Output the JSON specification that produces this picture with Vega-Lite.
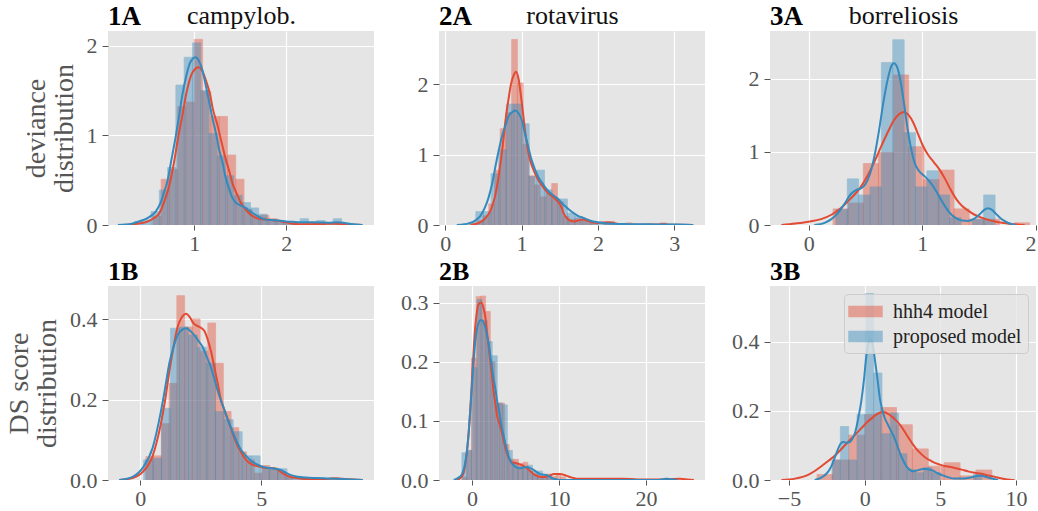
{
"$schema": "https://vega.github.io/schema/vega-lite/v6.json",
"padding": {"left": 5, "top": 2, "right": 0, "bottom": 0},
"background": "white",
"datasets": {
"b1A": [
{"s":"H","a":0.55,"b":0.64,"h":0.10},{"s":"H","a":0.64,"b":0.73,"h":0.51},{"s":"H","a":0.73,"b":0.82,"h":0.62},{"s":"H","a":0.82,"b":0.91,"h":1.32},{"s":"H","a":0.91,"b":1.00,"h":1.37},{"s":"H","a":1.00,"b":1.09,"h":2.07},{"s":"H","a":1.09,"b":1.18,"h":1.49},{"s":"H","a":1.18,"b":1.27,"h":1.21},{"s":"H","a":1.27,"b":1.36,"h":1.21},{"s":"H","a":1.36,"b":1.45,"h":0.78},{"s":"H","a":1.45,"b":1.54,"h":0.51},{"s":"H","a":1.54,"b":1.63,"h":0.17},{"s":"H","a":1.63,"b":1.72,"h":0.10},{"s":"H","a":1.72,"b":1.81,"h":0.11},{"s":"H","a":1.81,"b":1.90,"h":0.07},{"s":"H","a":1.90,"b":1.99,"h":0.03},{"s":"H","a":1.99,"b":2.08,"h":0.02},{"s":"H","a":2.08,"b":2.17,"h":0.01},{"s":"H","a":2.17,"b":2.26,"h":0.02},{"s":"H","a":2.26,"b":2.35,"h":0.01},{"s":"H","a":2.53,"b":2.62,"h":0.02},
{"s":"P","a":0.35,"b":0.44,"h":0.04},{"s":"P","a":0.44,"b":0.53,"h":0.06},{"s":"P","a":0.53,"b":0.62,"h":0.15},{"s":"P","a":0.62,"b":0.71,"h":0.39},{"s":"P","a":0.71,"b":0.80,"h":0.64},{"s":"P","a":0.80,"b":0.89,"h":1.56},{"s":"P","a":0.89,"b":0.98,"h":1.87},{"s":"P","a":0.98,"b":1.07,"h":2.03},{"s":"P","a":1.07,"b":1.16,"h":1.50},{"s":"P","a":1.16,"b":1.25,"h":1.02},{"s":"P","a":1.25,"b":1.34,"h":0.77},{"s":"P","a":1.34,"b":1.43,"h":0.55},{"s":"P","a":1.43,"b":1.52,"h":0.33},{"s":"P","a":1.52,"b":1.61,"h":0.25},{"s":"P","a":1.61,"b":1.70,"h":0.19},{"s":"P","a":1.70,"b":1.79,"h":0.12},{"s":"P","a":1.79,"b":1.88,"h":0.06},{"s":"P","a":1.88,"b":1.97,"h":0.05},{"s":"P","a":1.97,"b":2.06,"h":0.03},{"s":"P","a":2.06,"b":2.15,"h":0.03},{"s":"P","a":2.15,"b":2.24,"h":0.07},{"s":"P","a":2.24,"b":2.33,"h":0.03},{"s":"P","a":2.33,"b":2.42,"h":0.05},{"s":"P","a":2.42,"b":2.51,"h":0.02},{"s":"P","a":2.51,"b":2.60,"h":0.07},{"s":"P","a":2.60,"b":2.69,"h":0.02}
],
"k1A": [
{"s":"H","x":0.26,"y":0},{"s":"H","x":0.35,"y":0.01},{"s":"H","x":0.47,"y":0.03},{"s":"H","x":0.55,"y":0.07},{"s":"H","x":0.62,"y":0.13},{"s":"H","x":0.68,"y":0.28},{"s":"H","x":0.73,"y":0.45},{"s":"H","x":0.78,"y":0.70},{"s":"H","x":0.82,"y":0.95},{"s":"H","x":0.87,"y":1.22},{"s":"H","x":0.91,"y":1.45},{"s":"H","x":0.95,"y":1.62},{"s":"H","x":0.98,"y":1.70},{"s":"H","x":1.047,"y":1.76},{"s":"H","x":1.09,"y":1.71},{"s":"H","x":1.13,"y":1.60},{"s":"H","x":1.17,"y":1.46},{"s":"H","x":1.20,"y":1.30},{"s":"H","x":1.25,"y":1.12},{"s":"H","x":1.29,"y":0.95},{"s":"H","x":1.33,"y":0.78},{"s":"H","x":1.38,"y":0.60},{"s":"H","x":1.42,"y":0.45},{"s":"H","x":1.47,"y":0.33},{"s":"H","x":1.51,"y":0.24},{"s":"H","x":1.56,"y":0.17},{"s":"H","x":1.62,"y":0.11},{"s":"H","x":1.67,"y":0.08},{"s":"H","x":1.73,"y":0.065},{"s":"H","x":1.78,"y":0.06},{"s":"H","x":1.84,"y":0.055},{"s":"H","x":1.89,"y":0.05},{"s":"H","x":1.95,"y":0.04},{"s":"H","x":2.0,"y":0.03},{"s":"H","x":2.05,"y":0.018},{"s":"H","x":2.1,"y":0.01},{"s":"H","x":2.2,"y":0.008},{"s":"H","x":2.29,"y":0.01},{"s":"H","x":2.4,"y":0.012},{"s":"H","x":2.54,"y":0.015},{"s":"H","x":2.65,"y":0.01},{"s":"H","x":2.76,"y":0.003},{"s":"H","x":2.82,"y":0},
{"s":"P","x":0.17,"y":0},{"s":"P","x":0.25,"y":0.005},{"s":"P","x":0.32,"y":0.015},{"s":"P","x":0.40,"y":0.04},{"s":"P","x":0.48,"y":0.07},{"s":"P","x":0.54,"y":0.11},{"s":"P","x":0.58,"y":0.15},{"s":"P","x":0.63,"y":0.24},{"s":"P","x":0.67,"y":0.36},{"s":"P","x":0.71,"y":0.50},{"s":"P","x":0.75,"y":0.72},{"s":"P","x":0.80,"y":1.00},{"s":"P","x":0.84,"y":1.25},{"s":"P","x":0.87,"y":1.45},{"s":"P","x":0.91,"y":1.65},{"s":"P","x":0.95,"y":1.80},{"s":"P","x":0.98,"y":1.85},{"s":"P","x":1.01,"y":1.87},{"s":"P","x":1.05,"y":1.83},{"s":"P","x":1.09,"y":1.72},{"s":"P","x":1.12,"y":1.58},{"s":"P","x":1.16,"y":1.38},{"s":"P","x":1.20,"y":1.18},{"s":"P","x":1.24,"y":1.00},{"s":"P","x":1.27,"y":0.84},{"s":"P","x":1.31,"y":0.68},{"s":"P","x":1.34,"y":0.53},{"s":"P","x":1.38,"y":0.40},{"s":"P","x":1.41,"y":0.31},{"s":"P","x":1.45,"y":0.25},{"s":"P","x":1.50,"y":0.22},{"s":"P","x":1.56,"y":0.19},{"s":"P","x":1.61,"y":0.15},{"s":"P","x":1.67,"y":0.11},{"s":"P","x":1.72,"y":0.08},{"s":"P","x":1.78,"y":0.06},{"s":"P","x":1.85,"y":0.055},{"s":"P","x":1.92,"y":0.05},{"s":"P","x":2.0,"y":0.04},{"s":"P","x":2.07,"y":0.035},{"s":"P","x":2.15,"y":0.03},{"s":"P","x":2.22,"y":0.03},{"s":"P","x":2.29,"y":0.03},{"s":"P","x":2.38,"y":0.028},{"s":"P","x":2.46,"y":0.025},{"s":"P","x":2.54,"y":0.03},{"s":"P","x":2.60,"y":0.028},{"s":"P","x":2.68,"y":0.015},{"s":"P","x":2.76,"y":0.005},{"s":"P","x":2.83,"y":0}
],
"b2A": [
{"s":"H","a":0.345,"b":0.42,"h":0.02},{"s":"H","a":0.42,"b":0.495,"h":0.06},{"s":"H","a":0.495,"b":0.57,"h":0.13},{"s":"H","a":0.57,"b":0.645,"h":0.30},{"s":"H","a":0.645,"b":0.72,"h":0.78},{"s":"H","a":0.72,"b":0.795,"h":1.37},{"s":"H","a":0.795,"b":0.87,"h":1.60},{"s":"H","a":0.87,"b":0.945,"h":2.64},{"s":"H","a":0.945,"b":1.02,"h":2.02},{"s":"H","a":1.02,"b":1.095,"h":1.15},{"s":"H","a":1.095,"b":1.17,"h":0.70},{"s":"H","a":1.17,"b":1.245,"h":0.57},{"s":"H","a":1.245,"b":1.32,"h":0.40},{"s":"H","a":1.32,"b":1.395,"h":0.45},{"s":"H","a":1.395,"b":1.47,"h":0.59},{"s":"H","a":1.47,"b":1.545,"h":0.33},{"s":"H","a":1.545,"b":1.62,"h":0.12},{"s":"H","a":1.62,"b":1.695,"h":0.08},{"s":"H","a":1.695,"b":1.77,"h":0.09},{"s":"H","a":1.77,"b":1.845,"h":0.06},{"s":"H","a":1.845,"b":1.92,"h":0.04},{"s":"H","a":1.92,"b":1.995,"h":0.02},{"s":"H","a":2.07,"b":2.145,"h":0.04},{"s":"H","a":2.145,"b":2.22,"h":0.05},{"s":"H","a":2.37,"b":2.445,"h":0.03},{"s":"H","a":2.82,"b":2.895,"h":0.03},
{"s":"P","a":0.3,"b":0.4,"h":0.04},{"s":"P","a":0.4,"b":0.5,"h":0.19},{"s":"P","a":0.5,"b":0.6,"h":0.19},{"s":"P","a":0.6,"b":0.7,"h":0.73},{"s":"P","a":0.7,"b":0.8,"h":1.07},{"s":"P","a":0.8,"b":0.9,"h":1.72},{"s":"P","a":0.9,"b":1.0,"h":1.72},{"s":"P","a":1.0,"b":1.1,"h":1.44},{"s":"P","a":1.1,"b":1.2,"h":0.69},{"s":"P","a":1.2,"b":1.3,"h":0.78},{"s":"P","a":1.3,"b":1.4,"h":0.50},{"s":"P","a":1.4,"b":1.5,"h":0.37},{"s":"P","a":1.5,"b":1.6,"h":0.37},{"s":"P","a":1.6,"b":1.7,"h":0.17},{"s":"P","a":1.7,"b":1.8,"h":0.12},{"s":"P","a":1.8,"b":1.9,"h":0.07},{"s":"P","a":1.9,"b":2.0,"h":0.04},{"s":"P","a":2.0,"b":2.1,"h":0.03},{"s":"P","a":2.1,"b":2.2,"h":0.02},{"s":"P","a":2.5,"b":2.6,"h":0.01},{"s":"P","a":3.0,"b":3.1,"h":0.01},{"s":"P","a":3.1,"b":3.2,"h":0.01}
],
"k2A": [
{"s":"H","x":0.33,"y":0},{"s":"H","x":0.40,"y":0.015},{"s":"H","x":0.46,"y":0.04},{"s":"H","x":0.52,"y":0.09},{"s":"H","x":0.59,"y":0.20},{"s":"H","x":0.65,"y":0.40},{"s":"H","x":0.70,"y":0.70},{"s":"H","x":0.75,"y":1.10},{"s":"H","x":0.79,"y":1.50},{"s":"H","x":0.83,"y":1.80},{"s":"H","x":0.86,"y":2.00},{"s":"H","x":0.90,"y":2.14},{"s":"H","x":0.926,"y":2.18},{"s":"H","x":0.96,"y":2.08},{"s":"H","x":0.99,"y":1.85},{"s":"H","x":1.02,"y":1.58},{"s":"H","x":1.05,"y":1.30},{"s":"H","x":1.08,"y":1.08},{"s":"H","x":1.11,"y":0.93},{"s":"H","x":1.15,"y":0.80},{"s":"H","x":1.19,"y":0.70},{"s":"H","x":1.23,"y":0.62},{"s":"H","x":1.27,"y":0.56},{"s":"H","x":1.31,"y":0.50},{"s":"H","x":1.35,"y":0.45},{"s":"H","x":1.40,"y":0.41},{"s":"H","x":1.44,"y":0.37},{"s":"H","x":1.48,"y":0.33},{"s":"H","x":1.52,"y":0.26},{"s":"H","x":1.55,"y":0.17},{"s":"H","x":1.59,"y":0.10},{"s":"H","x":1.64,"y":0.06},{"s":"H","x":1.69,"y":0.05},{"s":"H","x":1.73,"y":0.06},{"s":"H","x":1.80,"y":0.08},{"s":"H","x":1.86,"y":0.06},{"s":"H","x":1.92,"y":0.04},{"s":"H","x":1.99,"y":0.03},{"s":"H","x":2.06,"y":0.035},{"s":"H","x":2.13,"y":0.04},{"s":"H","x":2.2,"y":0.03},{"s":"H","x":2.27,"y":0.015},{"s":"H","x":2.35,"y":0.008},{"s":"H","x":2.45,"y":0.006},{"s":"H","x":2.55,"y":0.005},{"s":"H","x":2.7,"y":0.006},{"s":"H","x":2.86,"y":0.01},{"s":"H","x":2.95,"y":0.005},{"s":"H","x":3.05,"y":0.002},{"s":"H","x":3.25,"y":0},
{"s":"P","x":0.15,"y":0},{"s":"P","x":0.25,"y":0.01},{"s":"P","x":0.33,"y":0.03},{"s":"P","x":0.40,"y":0.07},{"s":"P","x":0.46,"y":0.13},{"s":"P","x":0.52,"y":0.25},{"s":"P","x":0.57,"y":0.40},{"s":"P","x":0.62,"y":0.62},{"s":"P","x":0.66,"y":0.85},{"s":"P","x":0.70,"y":1.06},{"s":"P","x":0.74,"y":1.25},{"s":"P","x":0.79,"y":1.42},{"s":"P","x":0.83,"y":1.55},{"s":"P","x":0.87,"y":1.60},{"s":"P","x":0.92,"y":1.63},{"s":"P","x":0.96,"y":1.59},{"s":"P","x":1.00,"y":1.50},{"s":"P","x":1.04,"y":1.32},{"s":"P","x":1.09,"y":1.10},{"s":"P","x":1.13,"y":0.93},{"s":"P","x":1.18,"y":0.78},{"s":"P","x":1.22,"y":0.68},{"s":"P","x":1.27,"y":0.60},{"s":"P","x":1.32,"y":0.52},{"s":"P","x":1.38,"y":0.45},{"s":"P","x":1.43,"y":0.41},{"s":"P","x":1.48,"y":0.37},{"s":"P","x":1.52,"y":0.32},{"s":"P","x":1.57,"y":0.27},{"s":"P","x":1.62,"y":0.22},{"s":"P","x":1.68,"y":0.17},{"s":"P","x":1.74,"y":0.13},{"s":"P","x":1.81,"y":0.10},{"s":"P","x":1.88,"y":0.07},{"s":"P","x":1.94,"y":0.05},{"s":"P","x":2.0,"y":0.04},{"s":"P","x":2.07,"y":0.03},{"s":"P","x":2.16,"y":0.02},{"s":"P","x":2.25,"y":0.015},{"s":"P","x":2.4,"y":0.012},{"s":"P","x":2.51,"y":0.01},{"s":"P","x":2.7,"y":0.009},{"s":"P","x":2.86,"y":0.008},{"s":"P","x":3.03,"y":0.006},{"s":"P","x":3.15,"y":0.003},{"s":"P","x":3.25,"y":0}
],
"b3A": [
{"s":"H","a":0.215,"b":0.348,"h":0.22},{"s":"H","a":0.348,"b":0.481,"h":0.30},{"s":"H","a":0.481,"b":0.614,"h":0.84},{"s":"H","a":0.614,"b":0.747,"h":0.99},{"s":"H","a":0.747,"b":0.88,"h":2.05},{"s":"H","a":0.88,"b":1.013,"h":1.07},{"s":"H","a":1.013,"b":1.146,"h":0.62},{"s":"H","a":1.146,"b":1.279,"h":0.75},{"s":"H","a":1.279,"b":1.412,"h":0.22},{"s":"H","a":1.412,"b":1.545,"h":0.08},{"s":"H","a":1.545,"b":1.678,"h":0.08},{"s":"H","a":1.811,"b":1.944,"h":0.03},
{"s":"P","a":0.24,"b":0.34,"h":0.21},{"s":"P","a":0.34,"b":0.44,"h":0.63},{"s":"P","a":0.44,"b":0.54,"h":0.41},{"s":"P","a":0.54,"b":0.64,"h":0.52},{"s":"P","a":0.64,"b":0.74,"h":2.22},{"s":"P","a":0.74,"b":0.84,"h":2.53},{"s":"P","a":0.84,"b":0.94,"h":1.26},{"s":"P","a":0.94,"b":1.04,"h":0.52},{"s":"P","a":1.04,"b":1.14,"h":0.74},{"s":"P","a":1.14,"b":1.24,"h":0.41},{"s":"P","a":1.24,"b":1.34,"h":0.10},{"s":"P","a":1.44,"b":1.54,"h":0.08},{"s":"P","a":1.54,"b":1.64,"h":0.41}
],
"k3A": [
{"s":"H","x":-0.24,"y":0},{"s":"H","x":-0.12,"y":0.02},{"s":"H","x":0.0,"y":0.045},{"s":"H","x":0.11,"y":0.08},{"s":"H","x":0.2,"y":0.14},{"s":"H","x":0.29,"y":0.24},{"s":"H","x":0.37,"y":0.36},{"s":"H","x":0.45,"y":0.50},{"s":"H","x":0.52,"y":0.68},{"s":"H","x":0.58,"y":0.87},{"s":"H","x":0.64,"y":1.08},{"s":"H","x":0.70,"y":1.28},{"s":"H","x":0.75,"y":1.43},{"s":"H","x":0.80,"y":1.52},{"s":"H","x":0.84,"y":1.545},{"s":"H","x":0.88,"y":1.50},{"s":"H","x":0.92,"y":1.40},{"s":"H","x":0.96,"y":1.25},{"s":"H","x":1.00,"y":1.10},{"s":"H","x":1.05,"y":0.96},{"s":"H","x":1.10,"y":0.86},{"s":"H","x":1.15,"y":0.76},{"s":"H","x":1.20,"y":0.63},{"s":"H","x":1.25,"y":0.48},{"s":"H","x":1.30,"y":0.35},{"s":"H","x":1.35,"y":0.26},{"s":"H","x":1.40,"y":0.20},{"s":"H","x":1.46,"y":0.14},{"s":"H","x":1.52,"y":0.10},{"s":"H","x":1.58,"y":0.07},{"s":"H","x":1.63,"y":0.05},{"s":"H","x":1.70,"y":0.03},{"s":"H","x":1.77,"y":0.015},{"s":"H","x":1.85,"y":0.005},{"s":"H","x":1.90,"y":0},
{"s":"P","x":0.05,"y":0},{"s":"P","x":0.14,"y":0.03},{"s":"P","x":0.20,"y":0.08},{"s":"P","x":0.26,"y":0.17},{"s":"P","x":0.32,"y":0.30},{"s":"P","x":0.37,"y":0.42},{"s":"P","x":0.42,"y":0.48},{"s":"P","x":0.46,"y":0.50},{"s":"P","x":0.50,"y":0.56},{"s":"P","x":0.54,"y":0.70},{"s":"P","x":0.58,"y":0.95},{"s":"P","x":0.62,"y":1.30},{"s":"P","x":0.66,"y":1.70},{"s":"P","x":0.70,"y":2.02},{"s":"P","x":0.73,"y":2.18},{"s":"P","x":0.75,"y":2.21},{"s":"P","x":0.78,"y":2.15},{"s":"P","x":0.81,"y":1.95},{"s":"P","x":0.84,"y":1.65},{"s":"P","x":0.87,"y":1.32},{"s":"P","x":0.90,"y":1.05},{"s":"P","x":0.93,"y":0.86},{"s":"P","x":0.97,"y":0.74},{"s":"P","x":1.01,"y":0.68},{"s":"P","x":1.05,"y":0.62},{"s":"P","x":1.09,"y":0.54},{"s":"P","x":1.13,"y":0.44},{"s":"P","x":1.17,"y":0.33},{"s":"P","x":1.21,"y":0.23},{"s":"P","x":1.25,"y":0.15},{"s":"P","x":1.30,"y":0.09},{"s":"P","x":1.35,"y":0.06},{"s":"P","x":1.40,"y":0.055},{"s":"P","x":1.45,"y":0.08},{"s":"P","x":1.50,"y":0.14},{"s":"P","x":1.54,"y":0.20},{"s":"P","x":1.575,"y":0.23},{"s":"P","x":1.61,"y":0.21},{"s":"P","x":1.65,"y":0.15},{"s":"P","x":1.69,"y":0.09},{"s":"P","x":1.73,"y":0.05},{"s":"P","x":1.77,"y":0.02},{"s":"P","x":1.82,"y":0}
],
"b1B": [
{"s":"H","a":0.23,"b":0.55,"h":0.058},{"s":"H","a":0.55,"b":0.87,"h":0.06},{"s":"H","a":0.87,"b":1.19,"h":0.14},{"s":"H","a":1.19,"b":1.51,"h":0.24},{"s":"H","a":1.51,"b":1.83,"h":0.458},{"s":"H","a":1.83,"b":2.15,"h":0.38},{"s":"H","a":2.15,"b":2.47,"h":0.40},{"s":"H","a":2.47,"b":2.79,"h":0.32},{"s":"H","a":2.79,"b":3.11,"h":0.39},{"s":"H","a":3.11,"b":3.43,"h":0.29},{"s":"H","a":3.43,"b":3.75,"h":0.17},{"s":"H","a":3.75,"b":4.07,"h":0.13},{"s":"H","a":4.07,"b":4.39,"h":0.07},{"s":"H","a":4.39,"b":4.71,"h":0.05},{"s":"H","a":4.71,"b":5.03,"h":0.017},{"s":"H","a":5.03,"b":5.35,"h":0.036},{"s":"H","a":5.35,"b":5.67,"h":0.03},{"s":"H","a":5.67,"b":5.99,"h":0.02},{"s":"H","a":5.99,"b":6.31,"h":0.01},{"s":"H","a":6.63,"b":6.95,"h":0.005},{"s":"H","a":7.91,"b":8.23,"h":0.006},
{"s":"P","a":0.14,"b":0.51,"h":0.05},{"s":"P","a":0.51,"b":0.88,"h":0.054},{"s":"P","a":0.88,"b":1.25,"h":0.178},{"s":"P","a":1.25,"b":1.62,"h":0.377},{"s":"P","a":1.62,"b":1.99,"h":0.38},{"s":"P","a":1.99,"b":2.36,"h":0.36},{"s":"P","a":2.36,"b":2.73,"h":0.33},{"s":"P","a":2.73,"b":3.10,"h":0.29},{"s":"P","a":3.10,"b":3.47,"h":0.17},{"s":"P","a":3.47,"b":3.84,"h":0.15},{"s":"P","a":3.84,"b":4.21,"h":0.12},{"s":"P","a":4.21,"b":4.58,"h":0.06},{"s":"P","a":4.58,"b":4.95,"h":0.06},{"s":"P","a":4.95,"b":5.32,"h":0.03},{"s":"P","a":5.32,"b":5.69,"h":0.028},{"s":"P","a":5.69,"b":6.06,"h":0.028},{"s":"P","a":6.06,"b":6.43,"h":0.008},{"s":"P","a":6.43,"b":6.80,"h":0.005},{"s":"P","a":7.5,"b":7.87,"h":0.004},{"s":"P","a":8.2,"b":8.57,"h":0.003}
],
"k1B": [
{"s":"H","x":-0.87,"y":0},{"s":"H","x":-0.32,"y":0.005},{"s":"H","x":0.10,"y":0.02},{"s":"H","x":0.51,"y":0.06},{"s":"H","x":0.85,"y":0.14},{"s":"H","x":1.03,"y":0.20},{"s":"H","x":1.20,"y":0.27},{"s":"H","x":1.37,"y":0.33},{"s":"H","x":1.54,"y":0.38},{"s":"H","x":1.72,"y":0.405},{"s":"H","x":1.89,"y":0.413},{"s":"H","x":2.04,"y":0.405},{"s":"H","x":2.19,"y":0.39},{"s":"H","x":2.35,"y":0.383},{"s":"H","x":2.51,"y":0.378},{"s":"H","x":2.65,"y":0.37},{"s":"H","x":2.78,"y":0.35},{"s":"H","x":2.92,"y":0.32},{"s":"H","x":3.06,"y":0.28},{"s":"H","x":3.20,"y":0.24},{"s":"H","x":3.33,"y":0.20},{"s":"H","x":3.50,"y":0.17},{"s":"H","x":3.68,"y":0.14},{"s":"H","x":3.85,"y":0.11},{"s":"H","x":4.02,"y":0.085},{"s":"H","x":4.20,"y":0.065},{"s":"H","x":4.37,"y":0.05},{"s":"H","x":4.57,"y":0.04},{"s":"H","x":4.78,"y":0.035},{"s":"H","x":4.98,"y":0.032},{"s":"H","x":5.19,"y":0.03},{"s":"H","x":5.40,"y":0.03},{"s":"H","x":5.60,"y":0.028},{"s":"H","x":5.80,"y":0.02},{"s":"H","x":6.02,"y":0.012},{"s":"H","x":6.3,"y":0.006},{"s":"H","x":6.57,"y":0.004},{"s":"H","x":7.0,"y":0.002},{"s":"H","x":7.4,"y":0.002},{"s":"H","x":7.8,"y":0.003},{"s":"H","x":8.08,"y":0.004},{"s":"H","x":8.35,"y":0.003},{"s":"H","x":8.6,"y":0.002},{"s":"H","x":9.19,"y":0},
{"s":"P","x":-0.87,"y":0},{"s":"P","x":-0.32,"y":0.008},{"s":"P","x":0.10,"y":0.03},{"s":"P","x":0.51,"y":0.08},{"s":"P","x":0.85,"y":0.17},{"s":"P","x":1.03,"y":0.23},{"s":"P","x":1.20,"y":0.29},{"s":"P","x":1.37,"y":0.33},{"s":"P","x":1.54,"y":0.36},{"s":"P","x":1.72,"y":0.373},{"s":"P","x":1.91,"y":0.377},{"s":"P","x":2.07,"y":0.37},{"s":"P","x":2.23,"y":0.36},{"s":"P","x":2.41,"y":0.345},{"s":"P","x":2.58,"y":0.33},{"s":"P","x":2.75,"y":0.305},{"s":"P","x":2.92,"y":0.28},{"s":"P","x":3.09,"y":0.245},{"s":"P","x":3.26,"y":0.21},{"s":"P","x":3.44,"y":0.18},{"s":"P","x":3.61,"y":0.15},{"s":"P","x":3.78,"y":0.125},{"s":"P","x":3.95,"y":0.10},{"s":"P","x":4.16,"y":0.075},{"s":"P","x":4.37,"y":0.06},{"s":"P","x":4.57,"y":0.048},{"s":"P","x":4.78,"y":0.04},{"s":"P","x":5.05,"y":0.033},{"s":"P","x":5.33,"y":0.03},{"s":"P","x":5.57,"y":0.028},{"s":"P","x":5.81,"y":0.025},{"s":"P","x":6.02,"y":0.018},{"s":"P","x":6.23,"y":0.012},{"s":"P","x":6.5,"y":0.008},{"s":"P","x":6.85,"y":0.006},{"s":"P","x":7.25,"y":0.005},{"s":"P","x":7.67,"y":0.004},{"s":"P","x":8.1,"y":0.003},{"s":"P","x":8.5,"y":0.002},{"s":"P","x":9.19,"y":0}
],
"b2B": [
{"s":"H","a":-1.14,"b":-0.6,"h":0.005},{"s":"H","a":-0.6,"b":-0.06,"h":0.05},{"s":"H","a":-0.06,"b":0.48,"h":0.206},{"s":"H","a":0.48,"b":1.02,"h":0.31},{"s":"H","a":1.02,"b":1.56,"h":0.311},{"s":"H","a":1.56,"b":2.10,"h":0.285},{"s":"H","a":2.10,"b":2.64,"h":0.20},{"s":"H","a":2.64,"b":3.18,"h":0.13},{"s":"H","a":3.18,"b":3.72,"h":0.13},{"s":"H","a":3.72,"b":4.26,"h":0.06},{"s":"H","a":4.26,"b":4.80,"h":0.035},{"s":"H","a":4.80,"b":5.34,"h":0.035},{"s":"H","a":5.34,"b":5.88,"h":0.028},{"s":"H","a":5.88,"b":6.42,"h":0.03},{"s":"H","a":6.42,"b":6.96,"h":0.015},{"s":"H","a":6.96,"b":7.50,"h":0.01},{"s":"H","a":7.50,"b":8.04,"h":0.008},{"s":"H","a":8.04,"b":8.58,"h":0.005},{"s":"H","a":8.58,"b":9.12,"h":0.01},{"s":"H","a":9.12,"b":9.66,"h":0.006},{"s":"H","a":9.66,"b":10.2,"h":0.008},{"s":"H","a":10.2,"b":10.74,"h":0.005},{"s":"H","a":11.8,"b":12.34,"h":0.002},{"s":"H","a":13.2,"b":13.74,"h":0.002},{"s":"H","a":15.3,"b":15.84,"h":0.002},{"s":"H","a":17.5,"b":18.04,"h":0.002},{"s":"H","a":22.5,"b":23.04,"h":0.001},{"s":"H","a":24.1,"b":24.64,"h":0.002},
{"s":"P","a":-1.16,"b":-0.58,"h":0.046},{"s":"P","a":-0.58,"b":0.0,"h":0.05},{"s":"P","a":0.0,"b":0.58,"h":0.19},{"s":"P","a":0.58,"b":1.16,"h":0.305},{"s":"P","a":1.16,"b":1.74,"h":0.27},{"s":"P","a":1.74,"b":2.32,"h":0.234},{"s":"P","a":2.32,"b":2.90,"h":0.21},{"s":"P","a":2.90,"b":3.48,"h":0.13},{"s":"P","a":3.48,"b":4.06,"h":0.127},{"s":"P","a":4.06,"b":4.64,"h":0.05},{"s":"P","a":4.64,"b":5.22,"h":0.03},{"s":"P","a":5.22,"b":5.80,"h":0.023},{"s":"P","a":5.80,"b":6.38,"h":0.02},{"s":"P","a":6.38,"b":6.96,"h":0.025},{"s":"P","a":6.96,"b":7.54,"h":0.015},{"s":"P","a":7.54,"b":8.12,"h":0.015},{"s":"P","a":8.12,"b":8.70,"h":0.008},{"s":"P","a":8.70,"b":9.28,"h":0.005},{"s":"P","a":22.0,"b":22.58,"h":0.003}
],
"k2B": [
{"s":"H","x":-1.72,"y":0},{"s":"H","x":-1.3,"y":0.004},{"s":"H","x":-0.96,"y":0.012},{"s":"H","x":-0.65,"y":0.04},{"s":"H","x":-0.38,"y":0.08},{"s":"H","x":-0.19,"y":0.12},{"s":"H","x":0.0,"y":0.17},{"s":"H","x":0.19,"y":0.22},{"s":"H","x":0.38,"y":0.26},{"s":"H","x":0.57,"y":0.285},{"s":"H","x":0.77,"y":0.297},{"s":"H","x":1.03,"y":0.30},{"s":"H","x":1.34,"y":0.29},{"s":"H","x":1.53,"y":0.275},{"s":"H","x":1.72,"y":0.25},{"s":"H","x":1.92,"y":0.225},{"s":"H","x":2.11,"y":0.20},{"s":"H","x":2.30,"y":0.175},{"s":"H","x":2.49,"y":0.15},{"s":"H","x":2.68,"y":0.13},{"s":"H","x":2.87,"y":0.11},{"s":"H","x":3.16,"y":0.095},{"s":"H","x":3.45,"y":0.08},{"s":"H","x":3.74,"y":0.06},{"s":"H","x":4.02,"y":0.045},{"s":"H","x":4.31,"y":0.035},{"s":"H","x":4.6,"y":0.03},{"s":"H","x":5.17,"y":0.028},{"s":"H","x":5.75,"y":0.025},{"s":"H","x":6.32,"y":0.02},{"s":"H","x":6.7,"y":0.015},{"s":"H","x":7.09,"y":0.01},{"s":"H","x":7.47,"y":0.007},{"s":"H","x":7.85,"y":0.005},{"s":"H","x":8.24,"y":0.005},{"s":"H","x":8.62,"y":0.006},{"s":"H","x":9.0,"y":0.008},{"s":"H","x":9.39,"y":0.01},{"s":"H","x":9.77,"y":0.01},{"s":"H","x":10.15,"y":0.01},{"s":"H","x":10.5,"y":0.009},{"s":"H","x":10.9,"y":0.007},{"s":"H","x":11.5,"y":0.004},{"s":"H","x":12.07,"y":0.002},{"s":"H","x":13.0,"y":0.002},{"s":"H","x":14.0,"y":0.002},{"s":"H","x":15.5,"y":0.002},{"s":"H","x":17.4,"y":0.002},{"s":"H","x":19.0,"y":0.001},{"s":"H","x":20.5,"y":0.001},{"s":"H","x":22.5,"y":0.001},{"s":"H","x":23.9,"y":0.002},{"s":"H","x":24.7,"y":0.001},{"s":"H","x":25.5,"y":0},
{"s":"P","x":-2.1,"y":0},{"s":"P","x":-1.55,"y":0.004},{"s":"P","x":-1.15,"y":0.01},{"s":"P","x":-0.77,"y":0.03},{"s":"P","x":-0.57,"y":0.05},{"s":"P","x":-0.38,"y":0.08},{"s":"P","x":-0.19,"y":0.12},{"s":"P","x":0.0,"y":0.16},{"s":"P","x":0.19,"y":0.20},{"s":"P","x":0.38,"y":0.235},{"s":"P","x":0.57,"y":0.255},{"s":"P","x":0.77,"y":0.266},{"s":"P","x":0.96,"y":0.27},{"s":"P","x":1.15,"y":0.27},{"s":"P","x":1.34,"y":0.266},{"s":"P","x":1.53,"y":0.258},{"s":"P","x":1.72,"y":0.245},{"s":"P","x":1.92,"y":0.23},{"s":"P","x":2.11,"y":0.21},{"s":"P","x":2.30,"y":0.19},{"s":"P","x":2.49,"y":0.17},{"s":"P","x":2.68,"y":0.155},{"s":"P","x":2.87,"y":0.135},{"s":"P","x":3.07,"y":0.12},{"s":"P","x":3.35,"y":0.095},{"s":"P","x":3.64,"y":0.075},{"s":"P","x":3.93,"y":0.055},{"s":"P","x":4.21,"y":0.04},{"s":"P","x":4.5,"y":0.03},{"s":"P","x":4.79,"y":0.025},{"s":"P","x":5.17,"y":0.021},{"s":"P","x":5.56,"y":0.02},{"s":"P","x":5.94,"y":0.021},{"s":"P","x":6.32,"y":0.022},{"s":"P","x":6.7,"y":0.02},{"s":"P","x":7.09,"y":0.017},{"s":"P","x":7.47,"y":0.013},{"s":"P","x":7.85,"y":0.01},{"s":"P","x":8.24,"y":0.009},{"s":"P","x":8.62,"y":0.008},{"s":"P","x":9.0,"y":0.005},{"s":"P","x":9.39,"y":0.002},{"s":"P","x":9.77,"y":0.001},{"s":"P","x":10.15,"y":0},{"s":"P","x":21.3,"y":0},{"s":"P","x":21.8,"y":0.001},{"s":"P","x":22.4,"y":0.002},{"s":"P","x":23.0,"y":0.001},{"s":"P","x":23.6,"y":0}
],
"b3B": [
{"s":"hhh4 model","a":-3.15,"b":-2.1,"h":0.016},{"s":"hhh4 model","a":-2.1,"b":-1.05,"h":0.058},{"s":"hhh4 model","a":-1.05,"b":0,"h":0.13},{"s":"hhh4 model","a":0,"b":1.05,"h":0.19},{"s":"hhh4 model","a":1.05,"b":2.1,"h":0.21},{"s":"hhh4 model","a":2.1,"b":3.15,"h":0.16},{"s":"hhh4 model","a":3.15,"b":4.2,"h":0.09},{"s":"hhh4 model","a":4.2,"b":5.25,"h":0.04},{"s":"hhh4 model","a":5.25,"b":6.3,"h":0.05},{"s":"hhh4 model","a":6.3,"b":7.35,"h":0.012},{"s":"hhh4 model","a":7.35,"b":8.4,"h":0.029},
{"s":"proposed model","a":-2.16,"b":-1.61,"h":0.058},{"s":"proposed model","a":-1.61,"b":-1.06,"h":0.155},{"s":"proposed model","a":-1.06,"b":-0.51,"h":0.058},{"s":"proposed model","a":-0.51,"b":0.04,"h":0.19},{"s":"proposed model","a":0.04,"b":0.59,"h":0.54},{"s":"proposed model","a":0.59,"b":1.14,"h":0.31},{"s":"proposed model","a":1.14,"b":1.69,"h":0.134},{"s":"proposed model","a":1.69,"b":2.24,"h":0.194},{"s":"proposed model","a":2.24,"b":2.79,"h":0.076},{"s":"proposed model","a":2.79,"b":3.34,"h":0.03},{"s":"proposed model","a":3.34,"b":3.89,"h":0.021},{"s":"proposed model","a":3.89,"b":4.44,"h":0.036},{"s":"proposed model","a":4.44,"b":4.99,"h":0.021},{"s":"proposed model","a":7.19,"b":7.74,"h":0.016}
],
"k3B": [
{"s":"hhh4 model","x":-5.5,"y":0},{"s":"hhh4 model","x":-4.6,"y":0.004},{"s":"hhh4 model","x":-3.74,"y":0.015},{"s":"hhh4 model","x":-3.3,"y":0.026},{"s":"hhh4 model","x":-2.86,"y":0.04},{"s":"hhh4 model","x":-2.42,"y":0.055},{"s":"hhh4 model","x":-1.98,"y":0.07},{"s":"hhh4 model","x":-1.54,"y":0.09},{"s":"hhh4 model","x":-1.1,"y":0.11},{"s":"hhh4 model","x":-0.77,"y":0.125},{"s":"hhh4 model","x":-0.44,"y":0.14},{"s":"hhh4 model","x":-0.11,"y":0.155},{"s":"hhh4 model","x":0.22,"y":0.17},{"s":"hhh4 model","x":0.5,"y":0.18},{"s":"hhh4 model","x":0.77,"y":0.19},{"s":"hhh4 model","x":1.0,"y":0.195},{"s":"hhh4 model","x":1.21,"y":0.197},{"s":"hhh4 model","x":1.48,"y":0.193},{"s":"hhh4 model","x":1.76,"y":0.185},{"s":"hhh4 model","x":2.09,"y":0.172},{"s":"hhh4 model","x":2.42,"y":0.155},{"s":"hhh4 model","x":2.75,"y":0.132},{"s":"hhh4 model","x":3.08,"y":0.11},{"s":"hhh4 model","x":3.41,"y":0.09},{"s":"hhh4 model","x":3.74,"y":0.075},{"s":"hhh4 model","x":4.07,"y":0.063},{"s":"hhh4 model","x":4.4,"y":0.055},{"s":"hhh4 model","x":4.73,"y":0.048},{"s":"hhh4 model","x":5.07,"y":0.043},{"s":"hhh4 model","x":5.5,"y":0.039},{"s":"hhh4 model","x":5.95,"y":0.035},{"s":"hhh4 model","x":6.4,"y":0.03},{"s":"hhh4 model","x":6.83,"y":0.025},{"s":"hhh4 model","x":7.27,"y":0.021},{"s":"hhh4 model","x":7.71,"y":0.018},{"s":"hhh4 model","x":8.15,"y":0.013},{"s":"hhh4 model","x":8.6,"y":0.009},{"s":"hhh4 model","x":9.0,"y":0.005},{"s":"hhh4 model","x":9.25,"y":0.003},{"s":"hhh4 model","x":9.6,"y":0.001},{"s":"hhh4 model","x":9.9,"y":0},
{"s":"proposed model","x":-3.3,"y":0},{"s":"proposed model","x":-2.75,"y":0.01},{"s":"proposed model","x":-2.4,"y":0.025},{"s":"proposed model","x":-2.2,"y":0.04},{"s":"proposed model","x":-1.98,"y":0.065},{"s":"proposed model","x":-1.76,"y":0.09},{"s":"proposed model","x":-1.6,"y":0.105},{"s":"proposed model","x":-1.43,"y":0.11},{"s":"proposed model","x":-1.2,"y":0.108},{"s":"proposed model","x":-0.99,"y":0.11},{"s":"proposed model","x":-0.8,"y":0.12},{"s":"proposed model","x":-0.62,"y":0.14},{"s":"proposed model","x":-0.42,"y":0.18},{"s":"proposed model","x":-0.22,"y":0.23},{"s":"proposed model","x":-0.05,"y":0.29},{"s":"proposed model","x":0.11,"y":0.36},{"s":"proposed model","x":0.25,"y":0.395},{"s":"proposed model","x":0.40,"y":0.406},{"s":"proposed model","x":0.55,"y":0.385},{"s":"proposed model","x":0.70,"y":0.34},{"s":"proposed model","x":0.85,"y":0.29},{"s":"proposed model","x":0.99,"y":0.24},{"s":"proposed model","x":1.15,"y":0.205},{"s":"proposed model","x":1.32,"y":0.18},{"s":"proposed model","x":1.48,"y":0.165},{"s":"proposed model","x":1.65,"y":0.15},{"s":"proposed model","x":1.82,"y":0.135},{"s":"proposed model","x":1.98,"y":0.12},{"s":"proposed model","x":2.15,"y":0.10},{"s":"proposed model","x":2.31,"y":0.08},{"s":"proposed model","x":2.53,"y":0.058},{"s":"proposed model","x":2.75,"y":0.04},{"s":"proposed model","x":2.97,"y":0.03},{"s":"proposed model","x":3.19,"y":0.025},{"s":"proposed model","x":3.41,"y":0.027},{"s":"proposed model","x":3.63,"y":0.03},{"s":"proposed model","x":3.85,"y":0.032},{"s":"proposed model","x":4.07,"y":0.032},{"s":"proposed model","x":4.3,"y":0.03},{"s":"proposed model","x":4.52,"y":0.027},{"s":"proposed model","x":4.8,"y":0.02},{"s":"proposed model","x":5.07,"y":0.015},{"s":"proposed model","x":5.5,"y":0.008},{"s":"proposed model","x":5.95,"y":0.004},{"s":"proposed model","x":6.4,"y":0.004},{"s":"proposed model","x":6.83,"y":0.006},{"s":"proposed model","x":7.16,"y":0.009},{"s":"proposed model","x":7.49,"y":0.012},{"s":"proposed model","x":7.71,"y":0.012},{"s":"proposed model","x":7.93,"y":0.01},{"s":"proposed model","x":8.15,"y":0.007},{"s":"proposed model","x":8.37,"y":0.005},{"s":"proposed model","x":8.6,"y":0.002},{"s":"proposed model","x":8.81,"y":0}
]
},
"columns": 3,
"spacing": {"row": 61, "column": 65},
"bounds": "flush",
"resolve": {"scale": {"color": "independent", "stroke": "independent"}, "legend": {"color": "independent", "stroke": "independent"}},
"concat": [
{"width": 266, "height": 194, "title": {"text": "1A", "dy": 34},
 "layer": [
  {"data": {"name": "b1A"}, "mark": {"type": "bar", "opacity": 0.42, "strokeWidth": 0.8, "clip": true},
   "encoding": {
    "x": {"field": "a", "type": "quantitative", "scale": {"domain": [0.062, 2.953], "nice": false, "zero": false}, "axis": {"orient": "bottom", "values": [1, 2], "title": null}},
    "x2": {"field": "b"},
    "y": {"field": "h", "type": "quantitative", "scale": {"domain": [0, 2.163], "nice": false}, "axis": {"values": [0, 1, 2], "title": ["deviance", "distribution"]}},
    "y2": {"datum": 0},
    "color": {"field": "s", "type": "nominal", "scale": {"domain": ["H", "P"], "range": ["#E24A33", "#348ABD"]}, "legend": null},
    "stroke": {"field": "s", "type": "nominal", "scale": {"domain": ["H", "P"], "range": ["#E24A33", "#348ABD"]}, "legend": null}}},
  {"data": {"name": "k1A"}, "mark": {"type": "line", "strokeWidth": 2, "interpolate": "monotone", "clip": true},
   "encoding": {
    "x": {"field": "x", "type": "quantitative", "axis": {"orient": "top", "title": "campylob.", "labels": false, "ticks": false, "grid": false, "titleFont": "Liberation Serif", "titleColor": "#111111", "titleFontSize": 26, "titlePadding": 3}},
    "y": {"field": "y", "type": "quantitative", "axis": {"values": [0, 1, 2], "title": ["deviance", "distribution"]}},
    "stroke": {"field": "s", "type": "nominal", "legend": null}}}
 ]},
{"width": 266, "height": 194, "title": {"text": "2A", "dy": 34},
 "layer": [
  {"data": {"name": "b2A"}, "mark": {"type": "bar", "opacity": 0.42, "strokeWidth": 0.8, "clip": true},
   "encoding": {
    "x": {"field": "a", "type": "quantitative", "scale": {"domain": [-0.0826, 3.404], "nice": false, "zero": false}, "axis": {"orient": "bottom", "values": [0, 1, 2, 3], "title": null}},
    "x2": {"field": "b"},
    "y": {"field": "h", "type": "quantitative", "scale": {"domain": [0, 2.76], "nice": false}, "axis": {"values": [0, 1, 2], "title": null}},
    "y2": {"datum": 0},
    "color": {"field": "s", "type": "nominal", "scale": {"domain": ["H", "P"], "range": ["#E24A33", "#348ABD"]}, "legend": null},
    "stroke": {"field": "s", "type": "nominal", "scale": {"domain": ["H", "P"], "range": ["#E24A33", "#348ABD"]}, "legend": null}}},
  {"data": {"name": "k2A"}, "mark": {"type": "line", "strokeWidth": 2, "interpolate": "monotone", "clip": true},
   "encoding": {
    "x": {"field": "x", "type": "quantitative", "axis": {"orient": "top", "title": "rotavirus", "labels": false, "ticks": false, "grid": false, "titleFont": "Liberation Serif", "titleColor": "#111111", "titleFontSize": 26, "titlePadding": 3}},
    "y": {"field": "y", "type": "quantitative", "axis": {"values": [0, 1, 2], "title": null}},
    "stroke": {"field": "s", "type": "nominal", "legend": null}}}
 ]},
{"width": 266, "height": 194, "title": {"text": "3A", "dy": 34},
 "layer": [
  {"data": {"name": "b3A"}, "mark": {"type": "bar", "opacity": 0.42, "strokeWidth": 0.8, "clip": true},
   "encoding": {
    "x": {"field": "a", "type": "quantitative", "scale": {"domain": [-0.34, 2.0], "nice": false, "zero": false}, "axis": {"orient": "bottom", "values": [0, 1, 2], "title": null}},
    "x2": {"field": "b"},
    "y": {"field": "h", "type": "quantitative", "scale": {"domain": [0, 2.65], "nice": false}, "axis": {"values": [0, 1, 2], "title": null}},
    "y2": {"datum": 0},
    "color": {"field": "s", "type": "nominal", "scale": {"domain": ["H", "P"], "range": ["#E24A33", "#348ABD"]}, "legend": null},
    "stroke": {"field": "s", "type": "nominal", "scale": {"domain": ["H", "P"], "range": ["#E24A33", "#348ABD"]}, "legend": null}}},
  {"data": {"name": "k3A"}, "mark": {"type": "line", "strokeWidth": 2, "interpolate": "monotone", "clip": true},
   "encoding": {
    "x": {"field": "x", "type": "quantitative", "axis": {"orient": "top", "title": "borreliosis", "labels": false, "ticks": false, "grid": false, "titleFont": "Liberation Serif", "titleColor": "#111111", "titleFontSize": 26, "titlePadding": 3}},
    "y": {"field": "y", "type": "quantitative", "axis": {"values": [0, 1, 2], "title": null}},
    "stroke": {"field": "s", "type": "nominal", "legend": null}}}
 ]},
{"width": 266, "height": 194, "title": {"text": "1B", "offset": 1, "fontSize": 26},
 "layer": [
  {"data": {"name": "b1B"}, "mark": {"type": "bar", "opacity": 0.42, "strokeWidth": 0.8, "clip": true},
   "encoding": {
    "x": {"field": "a", "type": "quantitative", "scale": {"domain": [-1.335, 9.657], "nice": false, "zero": false}, "axis": {"values": [0, 5], "title": null}},
    "x2": {"field": "b"},
    "y": {"field": "h", "type": "quantitative", "scale": {"domain": [0, 0.482], "nice": false}, "axis": {"values": [0, 0.2, 0.4], "format": ".1f", "title": ["DS score", "distribution"]}},
    "y2": {"datum": 0},
    "color": {"field": "s", "type": "nominal", "scale": {"domain": ["H", "P"], "range": ["#E24A33", "#348ABD"]}, "legend": null},
    "stroke": {"field": "s", "type": "nominal", "scale": {"domain": ["H", "P"], "range": ["#E24A33", "#348ABD"]}, "legend": null}}},
  {"data": {"name": "k1B"}, "mark": {"type": "line", "strokeWidth": 2, "interpolate": "monotone", "clip": true},
   "encoding": {
    "x": {"field": "x", "type": "quantitative", "axis": {"values": [0, 5], "title": null}},
    "y": {"field": "y", "type": "quantitative", "axis": {"values": [0, 0.2, 0.4], "format": ".1f", "title": ["DS score", "distribution"]}},
    "stroke": {"field": "s", "type": "nominal", "legend": null}}}
 ]},
{"width": 266, "height": 194, "title": {"text": "2B", "offset": 1, "fontSize": 26},
 "layer": [
  {"data": {"name": "b2B"}, "mark": {"type": "bar", "opacity": 0.42, "strokeWidth": 0.8, "clip": true},
   "encoding": {
    "x": {"field": "a", "type": "quantitative", "scale": {"domain": [-3.793, 26.78], "nice": false, "zero": false}, "axis": {"values": [0, 10, 20], "title": null}},
    "x2": {"field": "b"},
    "y": {"field": "h", "type": "quantitative", "scale": {"domain": [0, 0.328], "nice": false}, "axis": {"values": [0, 0.1, 0.2, 0.3], "format": ".1f", "title": null}},
    "y2": {"datum": 0},
    "color": {"field": "s", "type": "nominal", "scale": {"domain": ["H", "P"], "range": ["#E24A33", "#348ABD"]}, "legend": null},
    "stroke": {"field": "s", "type": "nominal", "scale": {"domain": ["H", "P"], "range": ["#E24A33", "#348ABD"]}, "legend": null}}},
  {"data": {"name": "k2B"}, "mark": {"type": "line", "strokeWidth": 2, "interpolate": "monotone", "clip": true},
   "encoding": {
    "x": {"field": "x", "type": "quantitative", "axis": {"values": [0, 10, 20], "title": null}},
    "y": {"field": "y", "type": "quantitative", "axis": {"values": [0, 0.1, 0.2, 0.3], "format": ".1f", "title": null}},
    "stroke": {"field": "s", "type": "nominal", "legend": null}}}
 ]},
{"width": 266, "height": 194, "title": {"text": "3B", "offset": 1, "fontSize": 26},
 "layer": [
  {"data": {"name": "b3B"}, "mark": {"type": "bar", "opacity": 0.42, "strokeWidth": 0.8, "clip": true},
   "encoding": {
    "x": {"field": "a", "type": "quantitative", "scale": {"domain": [-6.259, 11.32], "nice": false, "zero": false}, "axis": {"values": [-5, 0, 5, 10], "title": null}},
    "x2": {"field": "b"},
    "y": {"field": "h", "type": "quantitative", "scale": {"domain": [0, 0.562], "nice": false}, "axis": {"values": [0, 0.2, 0.4], "format": ".1f", "title": null}},
    "y2": {"datum": 0},
    "color": {"field": "s", "type": "nominal", "scale": {"domain": ["hhh4 model", "proposed model"], "range": ["#E24A33", "#348ABD"]},
      "legend": {"orient": "top-right", "offset": 8, "title": null, "symbolType": "M-1.5,-0.5H1.5V0.5H-1.5Z", "symbolSize": 529, "symbolOpacity": 0.45, "symbolStrokeWidth": 0, "labelFont": "Liberation Serif", "labelFontSize": 20, "labelColor": "#222222", "fillColor": "rgba(229,229,229,0.8)", "strokeColor": "#cccccc", "cornerRadius": 4, "padding": 6, "rowPadding": 3, "labelOffset": 16, "symbolOffset": 4}},
    "stroke": {"field": "s", "type": "nominal", "scale": {"domain": ["hhh4 model", "proposed model"], "range": ["#E24A33", "#348ABD"]}, "legend": null}}},
  {"data": {"name": "k3B"}, "mark": {"type": "line", "strokeWidth": 2, "interpolate": "monotone", "clip": true},
   "encoding": {
    "x": {"field": "x", "type": "quantitative", "axis": {"values": [-5, 0, 5, 10], "title": null}},
    "y": {"field": "y", "type": "quantitative", "axis": {"values": [0, 0.2, 0.4], "format": ".1f", "title": null}},
    "stroke": {"field": "s", "type": "nominal", "legend": null}}}
 ]}
],
"config": {
 "view": {"fill": "#E5E5E5", "stroke": null},
 "axis": {"domain": false, "grid": true, "gridColor": "#FFFFFF", "gridWidth": 1.2, "tickColor": "#555555", "tickSize": 5, "tickWidth": 1, "labelFont": "Liberation Serif", "labelFontSize": 22, "labelColor": "#555555", "labelPadding": 3, "titleFont": "Liberation Serif", "titleFontSize": 28, "titleFontWeight": "normal", "titleColor": "#555555", "titleLineHeight": 28, "titlePadding": 8},
 "axisY": {"tickSize": 6, "labelPadding": 5},
 "title": {"font": "Liberation Serif", "fontSize": 27, "fontWeight": "bold", "color": "#000000", "anchor": "start", "frame": "group", "offset": 5}
}
}
